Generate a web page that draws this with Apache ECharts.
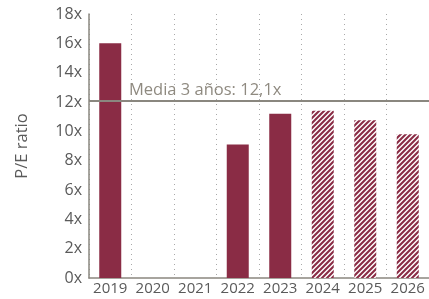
<!DOCTYPE html>
<html>
<head>
<meta charset="utf-8">
<script src="https://cdn.jsdelivr.net/npm/echarts@6/dist/echarts.min.js"></script>
<style>
  html, body { margin: 0; padding: 0; background: #fff; }
  #chart { width: 429px; height: 299px; }
</style>
</head>
<body>
<div id="chart"></div>
<script>
// datos del gráfico
const years = ['2019', '2020', '2021', '2022', '2023', '2024', '2025', '2026'];
const peValues = [16.0, null, null, 9.1, 11.2, 11.4, 10.75, 9.8];
const isEstimate = [false, false, false, false, false, true, true, true];
const yTicks = [0, 2, 4, 6, 8, 10, 12, 14, 16, 18];
const avgValue = 12.1;
const avgLabel = 'Media 3 años: 12,1x';

const barColor = '#8a2c45';
const greyText = '#5a5a5a';

// patrón rayado "/" para las estimaciones
function makeHatch() {
    const c = document.createElement('canvas');
    c.width = 5; c.height = 5;
    const ctx = c.getContext('2d');
    ctx.fillStyle = '#ffffff';
    ctx.fillRect(0, 0, 5, 5);
    ctx.strokeStyle = barColor;
    ctx.lineWidth = 2.1;
    ctx.beginPath();
    ctx.moveTo(-1, 6); ctx.lineTo(6, -1);
    ctx.moveTo(-1, 1); ctx.lineTo(1, -1);
    ctx.moveTo(4, 6); ctx.lineTo(6, 4);
    ctx.stroke();
    return c;
}
const hatch = makeHatch();

const chart = echarts.init(document.getElementById('chart'));

const barData = peValues.map((v, i) => ({
    value: v,
    itemStyle: {
        color: isEstimate[i] ? { image: hatch, repeat: 'repeat' } : barColor
    }
}));

chart.setOption({
    animation: false,
    textStyle: { fontFamily: 'Open Sans' },
    grid: { left: 89, right: -2, top: 14, bottom: 21, containLabel: false },
    xAxis: {
        type: 'category',
        data: years,
        axisLine: { show: true, lineStyle: { color: '#8a877f', width: 1.5 } },
        axisTick: { show: false },
        axisLabel: { color: greyText, fontSize: 15, margin: 3, interval: 0 },
        splitLine: { show: true, interval: 0, lineStyle: { color: '#a9a9a9', type: [1, 4], width: 1 } }
    },
    yAxis: {
        type: 'value',
        min: yTicks[0],
        max: yTicks[yTicks.length - 1],
        interval: 2,
        name: 'P/E ratio',
        nameLocation: 'middle',
        nameGap: 58,
        nameTextStyle: { color: greyText, fontSize: 16.5 },
        axisLine: { show: true, lineStyle: { color: '#8a877f', width: 1.5 } },
        axisTick: { show: false },
        axisLabel: { color: greyText, fontSize: 16, margin: 7, formatter: v => v + 'x' },
        splitLine: { show: false }
    },
    series: [{
        type: 'bar',
        data: barData,
        barWidth: 22,
        markLine: {
            silent: true,
            symbol: 'none',
            lineStyle: { color: '#8a877f', width: 2, type: 'solid' },
            label: {
                show: true,
                position: 'insideStartTop',
                formatter: avgLabel,
                color: '#8f8a80',
                fontSize: 16.5,
                padding: [0, 0, 0, 38],
                distance: 2
            },
            data: [{ yAxis: avgValue }]
        }
    }]
});
</script>
</body>
</html>
